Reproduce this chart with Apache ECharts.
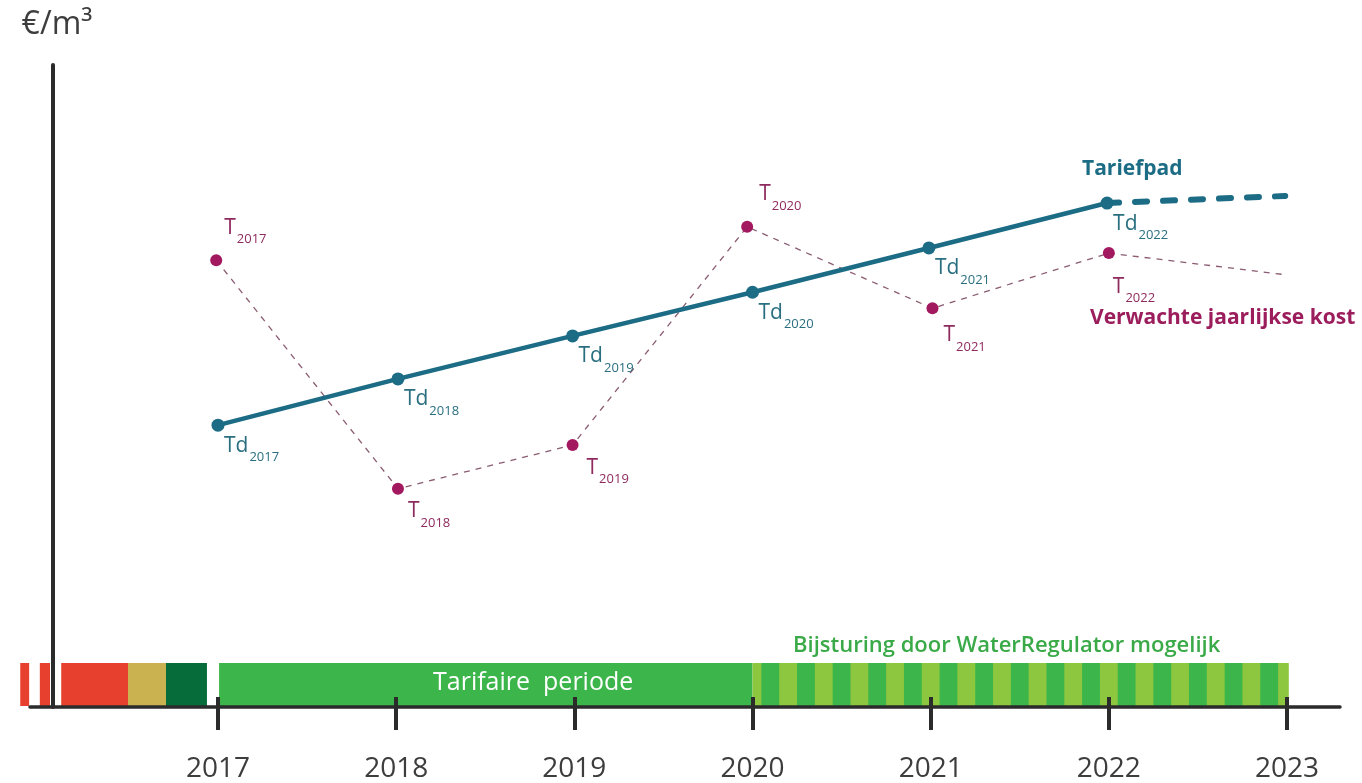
<!DOCTYPE html>
<html>
<head>
<meta charset="utf-8">
<script src="https://cdn.jsdelivr.net/npm/echarts@6/dist/echarts.min.js"></script>
<style>html,body{margin:0;padding:0;background:#fff}#c{width:1362px;height:783px}</style>
</head>
<body>
<div id="c"></div>
<script>
// ---- data ----
const years = [2017, 2018, 2019, 2020, 2021, 2022, 2023];

// Tariefpad (Td)
const tdX = [2017.0, 2018.01, 2018.99, 2020.0, 2020.99, 2021.99];
const tdY = [4.39, 5.11, 5.78, 6.46, 7.15, 7.85];
const tdSub = ['2017', '2018', '2019', '2020', '2021', '2022'];
const tdExtX = [2021.99, 2022.99];
const tdExtY = [7.85, 7.96];

// Verwachte jaarlijkse kost (T)
const tX = [2016.99, 2018.01, 2018.99, 2019.97, 2021.01, 2022.0];
const tY = [6.96, 3.40, 4.08, 7.48, 6.21, 7.07];
const tSub = ['2017', '2018', '2019', '2020', '2021', '2022'];
const tExtX = [2022.0, 2023.0];
const tExtY = [7.07, 6.73];

// periode-balk
const bandStart = [2015.89, 2016.0, 2016.12, 2016.495, 2016.708, 2017.006, 2020.0];
const bandEnd   = [2015.94, 2016.057, 2016.495, 2016.708, 2016.938, 2020.0, 2023.01];
const bandKind  = ['rood', 'rood', 'rood', 'geel', 'donkergroen', 'groen', 'lichtgroen'];
const stripeStart = [2020.05, 2020.25, 2020.45, 2020.65, 2020.85, 2021.05, 2021.25, 2021.45, 2021.65, 2021.85, 2022.05, 2022.25, 2022.45, 2022.65, 2022.85];
const stripeEnd   = [2020.15, 2020.35, 2020.55, 2020.75, 2020.95, 2021.15, 2021.35, 2021.55, 2021.75, 2021.95, 2022.15, 2022.35, 2022.55, 2022.75, 2022.95];

// ---- styles ----
const FONT = '"Open Sans", "Noto Sans", sans-serif';
const TEAL = '#1c6c85';
const MAGENTA = '#a3195f';
const MAUVE = '#8a5b72';
const AXIS = '#2b2b2b';
const bandColors = { rood: '#e8402f', geel: '#c9b24f', donkergroen: '#066c39', groen: '#3cb64a', lichtgroen: '#8dc63f' };
const tdLabelOffset = [6, 10];
const tLabelOffset = [[8, -43], [10, 12], [14, 12], [12, -43], [11, 16], [4, 23]];

function richFor(color) {
  return {
    m: { fontFamily: FONT, fontSize: 21, color: color, lineHeight: 22, verticalAlign: 'top' },
    s: { fontFamily: FONT, fontSize: 13, color: color, lineHeight: 14, verticalAlign: 'top', padding: [16, 0, 0, 1] }
  };
}

const bandData = [];
bandStart.forEach((s, i) => bandData.push({ value: [s, bandEnd[i]], itemStyle: { color: bandColors[bandKind[i]] } }));
stripeStart.forEach((s, i) => bandData.push({ value: [s, stripeEnd[i]], itemStyle: { color: bandColors.groen } }));

const tdData = tdX.map((x, i) => ({
  value: [x, tdY[i]],
  label: { formatter: '{m|Td}{s|' + tdSub[i] + '}', offset: tdLabelOffset }
}));
const tData = tX.map((x, i) => ({
  value: [x, tY[i]],
  label: { formatter: '{m|T}{s|' + tSub[i] + '}', offset: tLabelOffset[i] }
}));

const xMin = 2015.9448, xMax = 2023.2974;

const chart = echarts.init(document.getElementById('c'), null, { renderer: 'canvas' });
chart.setOption({
  backgroundColor: '#ffffff',
  animation: false,
  grid: { left: 30, right: 22, top: 65, bottom: 76 },
  xAxis: [
    {
      type: 'value', min: xMin, max: xMax, z: 10,
      axisLine: { show: true, lineStyle: { color: AXIS, width: 3.5 } },
      axisTick: { show: true, customValues: years, length: 23, lineStyle: { color: AXIS, width: 4 } },
      axisLabel: { customValues: years, formatter: v => String(Math.round(v)), fontFamily: FONT, fontSize: 28, color: '#3d3d3d', margin: 48 },
      splitLine: { show: false }
    },
    {
      type: 'value', min: xMin, max: xMax, z: 10, position: 'bottom',
      axisLine: { show: false },
      axisTick: { show: true, inside: true, customValues: years, length: 10, lineStyle: { color: AXIS, width: 4 } },
      axisLabel: { show: false },
      splitLine: { show: false }
    }
  ],
  yAxis: {
    type: 'value', min: 0, max: 10, offset: -23, z: 10,
    axisLine: { show: true, lineStyle: { color: AXIS, width: 4 } },
    axisTick: { show: false }, axisLabel: { show: false }, splitLine: { show: false },
    name: '€/m³', nameLocation: 'end', nameGap: 24,
    nameTextStyle: { fontFamily: FONT, fontSize: 32, color: '#3d3d3d', align: 'center', padding: [0, 0, 0, 8] }
  },
  graphic: [
    { type: 'text', left: 1082, top: 159, z: 20, style: { text: 'Tariefpad', fill: TEAL, font: 'bold 21px ' + FONT } },
    { type: 'text', left: 1090, top: 308, z: 20, style: { text: 'Verwachte jaarlijkse kost', fill: '#9b1d5c', font: 'bold 21px ' + FONT } },
    { type: 'text', left: 793, top: 635, z: 20, style: { text: 'Bijsturing door WaterRegulator mogelijk', fill: '#3aaa48', font: '600 22px ' + FONT } },
    { type: 'text', left: 433, top: 670, z: 20, style: { text: 'Tarifaire  periode', fill: '#ffffff', font: '25px ' + FONT } }
  ],
  series: [
    {
      type: 'custom', name: 'periode', z: 1, clip: false,
      encode: { x: [0, 1] },
      data: bandData,
      renderItem: function (params, api) {
        const s = api.coord([api.value(0), 0]);
        const e = api.coord([api.value(1), 0]);
        return { type: 'rect', shape: { x: s[0], y: s[1] - 44, width: e[0] - s[0], height: 43 }, style: api.style() };
      }
    },
    {
      type: 'line', name: 'T ext', z: 3, data: tExtX.map((x, i) => [x, tExtY[i]]),
      symbol: 'none', lineStyle: { color: MAUVE, width: 1.3, type: [6, 6] }, silent: true
    },
    {
      type: 'line', name: 'Verwachte jaarlijkse kost', z: 4, data: tData,
      symbol: 'circle', symbolSize: 12,
      itemStyle: { color: MAGENTA },
      lineStyle: { color: MAUVE, width: 1.3, type: [6, 6] },
      label: { show: true, position: 'inside', align: 'left', verticalAlign: 'top', rich: richFor('#8e2a5e') }
    },
    {
      type: 'line', name: 'Td ext', z: 5, data: tdExtX.map((x, i) => [x, tdExtY[i]]),
      symbol: 'none', lineStyle: { color: TEAL, width: 6, type: [12, 16], cap: 'round' }
    },
    {
      type: 'line', name: 'Tariefpad', z: 6, data: tdData,
      symbol: 'circle', symbolSize: 13,
      itemStyle: { color: TEAL },
      lineStyle: { color: TEAL, width: 4.5 },
      label: { show: true, position: 'inside', align: 'left', verticalAlign: 'top', rich: richFor('#2a6f80') }
    }
  ]
});
</script>
</body>
</html>
